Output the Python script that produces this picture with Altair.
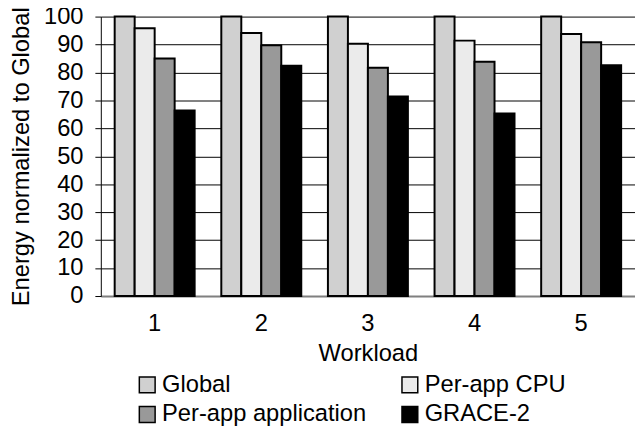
import altair as alt
import pandas as pd

workloads = ["1", "2", "3", "4", "5"]
series = ["Global", "Per-app CPU", "Per-app application", "GRACE-2"]
global_vals = [100, 100, 100, 100, 100]
cpu_vals = [95.8, 94.1, 90.3, 91.4, 93.8]
app_vals = [85.0, 89.7, 81.7, 83.8, 90.8]
grace_vals = [66.4, 82.4, 71.4, 65.3, 82.6]
colors = ["#d0d0d0", "#ebebeb", "#999999", "#000000"]

rows = []
for s, vals in zip(series, [global_vals, cpu_vals, app_vals, grace_vals]):
    for w, v in zip(workloads, vals):
        rows.append({"Workload": w, "Series": s, "Value": v})
df = pd.DataFrame(rows)

font = "Liberation Sans"

chart = alt.Chart(df).mark_bar(stroke="black", strokeWidth=2).encode(
    x=alt.X("Workload:N", sort=workloads,
            scale=alt.Scale(paddingInner=0.25, paddingOuter=0.13),
            axis=alt.Axis(title="Workload", labelAngle=0, ticks=False,
                          domainColor="#808080", domainWidth=2,
                          labelFontSize=24, titleFontSize=24, labelPadding=16,
                          titlePadding=6, labelFont=font, titleFont=font,
                          labelColor="black", titleColor="black", titleFontWeight="normal")),
    xOffset=alt.XOffset("Series:N", sort=series),
    y=alt.Y("Value:Q", scale=alt.Scale(domain=[0, 100]),
            axis=alt.Axis(title="Energy normalized to Global", values=list(range(0, 101, 10)),
                          grid=True, gridColor="black", gridWidth=1,
                          domainColor="black", tickColor="black", tickSize=6,
                          labelFontSize=24, titleFontSize=24, labelFont=font, titleFont=font,
                          labelColor="black", titleColor="black", titleFontWeight="normal",
                          labelPadding=12, titlePadding=10)),
    color=alt.Color("Series:N", sort=series,
                    scale=alt.Scale(domain=series, range=colors),
                    legend=alt.Legend(title=None, orient="none", legendX=35, legendY=361,
                                      direction="horizontal",
                                      columns=2, columnPadding=32, rowPadding=6,
                                      symbolType="square", symbolSize=256,
                                      symbolStrokeColor="black", symbolStrokeWidth=1.5,
                                      symbolOpacity=1, labelLimit=400,
                                      labelFontSize=24, labelFont=font, labelColor="black",
                                      labelOffset=3)),
).properties(
    width=541, height=283,
    padding={"left": 94, "top": 6, "right": 0, "bottom": 134},
    autosize=alt.AutoSizeParams(type="none"),
).configure_view(stroke=None).configure_axis(labelLimit=400)

chart.save("out.html", embed_options={"renderer": "svg", "actions": False})
